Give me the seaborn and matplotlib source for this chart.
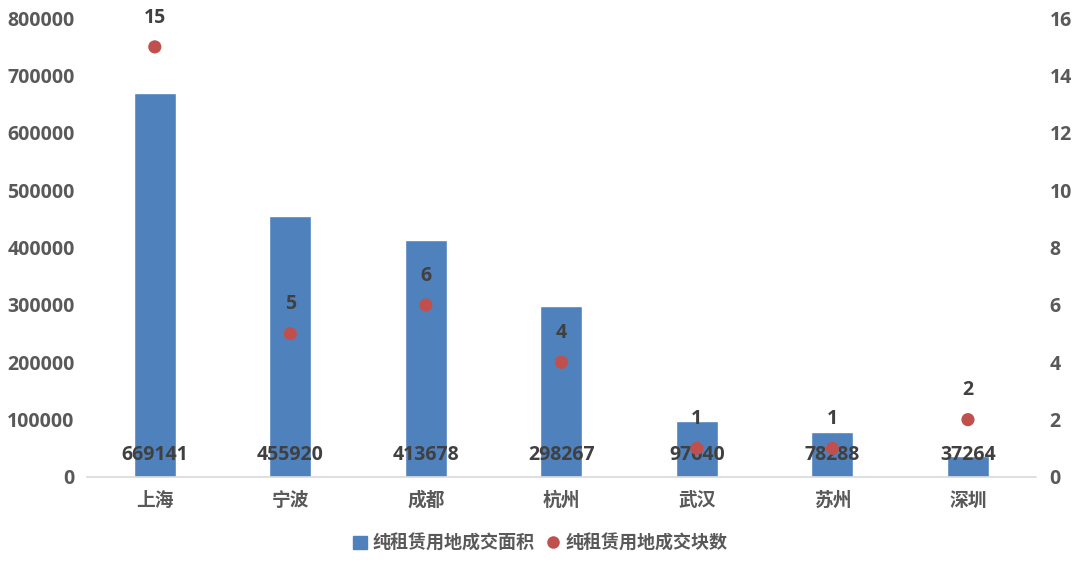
import pandas as pd
import matplotlib.pyplot as plt
import seaborn as sns
from matplotlib.lines import Line2D
from matplotlib.patches import Patch

# Data
cities = ["上海", "宁波", "成都", "杭州", "武汉", "苏州", "深圳"]
area = [669141, 455920, 413678, 298267, 97640, 78288, 37264]
blocks = [15, 5, 6, 4, 1, 1, 2]

df = pd.DataFrame({"city": cities, "area": area, "blocks": blocks})

sns.set_theme(style="white")
plt.rcParams['font.family'] = ['Open Sans', 'Noto Sans CJK SC', 'DejaVu Sans']

bar_color = "#4f81bd"
dot_color = "#c0504d"
tick_color = "#595959"
label_color = "#404040"

fig = plt.figure(figsize=(10.8, 5.69), dpi=100)
ax = fig.add_axes([0.0806, 0.1617, 0.8784, 0.8063])

sns.barplot(data=df, x="city", y="area", color=bar_color, width=0.31,
            saturation=1, ax=ax)
ax.set_ylim(0, 800000)
ax.set_yticks(range(0, 800001, 100000))
ax.set_xlabel("")
ax.set_ylabel("")

ax2 = ax.twinx()
sns.scatterplot(data=df, x="city", y="blocks", color=dot_color, s=90,
                edgecolor="none", ax=ax2, zorder=5)
ax2.set_ylim(0, 16)
ax2.set_yticks(range(0, 17, 2))
ax2.set_ylabel("")
ax.set_xlim(-0.5, len(cities) - 0.5)

for a in (ax, ax2):
    for s in a.spines.values():
        s.set_visible(False)
    a.tick_params(length=0, labelsize=14, colors=tick_color)
    for t in a.get_yticklabels():
        t.set_fontweight("bold")
ax.spines["bottom"].set_visible(True)
ax.spines["bottom"].set_color("#d9d9d9")
ax.spines["bottom"].set_linewidth(1.2)
ax.tick_params(axis="x", pad=10)
for t in ax.get_xticklabels():
    t.set_fontweight("bold")
    t.set_fontsize(13.5)
ax.tick_params(axis="y", pad=9)
ax2.tick_params(axis="y", pad=10)

# bar value labels near base
for i, v in enumerate(area):
    ax.annotate(str(v), (i, 0), xytext=(0, 16), textcoords="offset points",
                ha="center", va="center", fontsize=14, fontweight="bold",
                color=label_color)

# dot labels above points
for i, v in enumerate(blocks):
    ax2.annotate(str(v), (i, v), xytext=(0, 21), textcoords="offset points",
                 ha="center", va="center", fontsize=14, fontweight="bold",
                 color=label_color)

handles = [Patch(color=bar_color, label="纯租赁用地成交面积"),
           Line2D([], [], marker="o", linestyle="", color=dot_color,
                  markersize=8, label="纯租赁用地成交块数")]
leg = fig.legend(handles=handles, loc="lower center", ncol=2, frameon=False,
                 bbox_to_anchor=(0.5, 0.0), handlelength=0.8,
                 handletextpad=0.3, columnspacing=0.6,
                 prop={"size": 13, "weight": "bold"})
for t in leg.get_texts():
    t.set_color(tick_color)

fig.savefig("out.png", dpi=100)
